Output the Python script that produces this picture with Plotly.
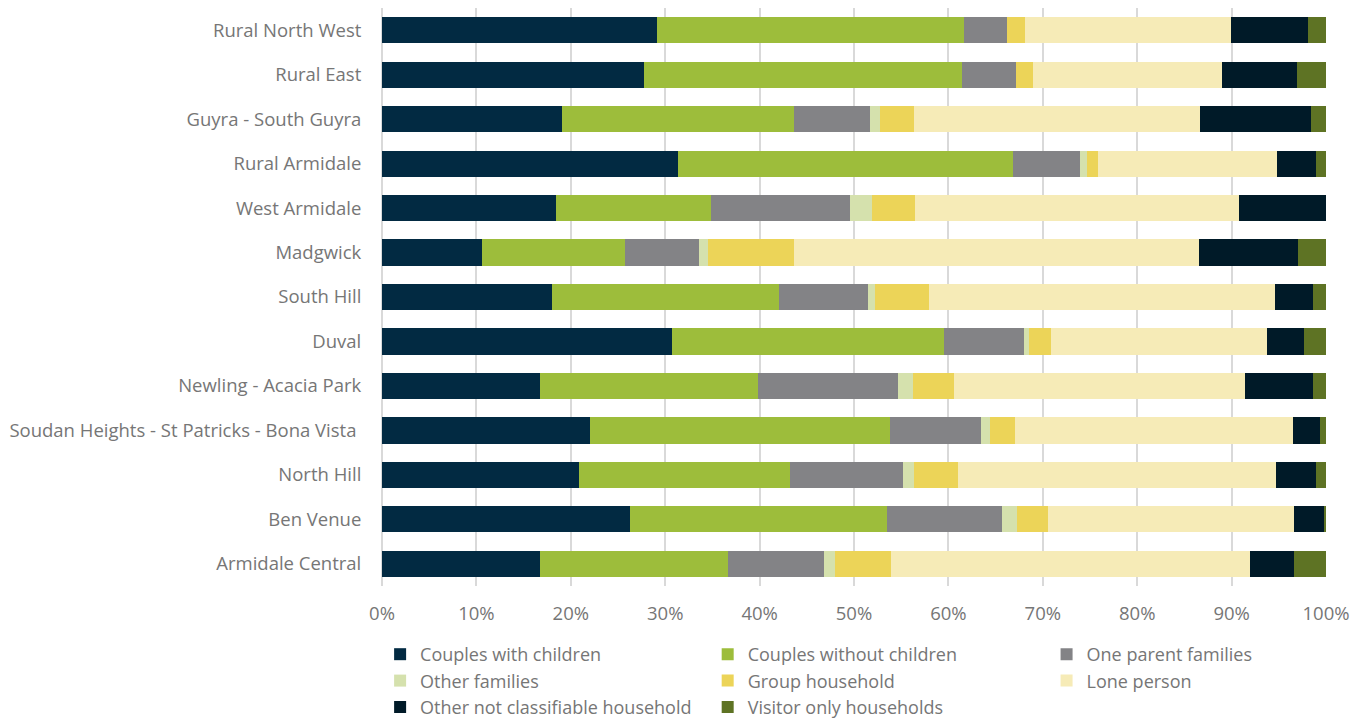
import plotly.graph_objects as go

areas = ["Rural North West", "Rural East", "Guyra - South Guyra", "Rural Armidale",
         "West Armidale", "Madgwick", "South Hill", "Duval", "Newling - Acacia Park",
         "Soudan Heights - St Patricks - Bona Vista ", "North Hill", "Ben Venue",
         "Armidale Central"]

couples_with_children = [29.1, 27.8, 19.1, 31.4, 18.4, 10.6, 18.0, 30.7, 16.7, 22.0, 20.9, 26.3, 16.7]
couples_without_children = [32.6, 33.6, 24.5, 35.4, 16.5, 15.1, 24.1, 28.8, 23.1, 31.8, 22.3, 27.2, 20.0]
one_parent_families = [4.5, 5.8, 8.1, 7.1, 14.7, 7.9, 9.4, 8.5, 14.9, 9.7, 12.0, 12.2, 10.1]
other_families = [0.0, 0.0, 1.1, 0.8, 2.3, 0.9, 0.7, 0.5, 1.5, 0.9, 1.2, 1.6, 1.2]
group_household = [1.9, 1.8, 3.6, 1.1, 4.6, 9.1, 5.7, 2.4, 4.4, 2.7, 4.6, 3.3, 5.9]
lone_person = [21.8, 20.0, 30.3, 19.0, 34.3, 42.9, 36.7, 22.9, 30.8, 29.4, 33.7, 26.0, 38.0]
other_not_classifiable = [8.2, 7.9, 11.7, 4.1, 9.2, 10.5, 4.0, 3.9, 7.2, 2.9, 4.2, 3.2, 4.7]
visitor_only = [1.9, 3.1, 1.6, 1.1, 0.0, 3.0, 1.4, 2.3, 1.4, 0.6, 1.1, 0.2, 3.4]

x_tick_vals = [0, 10, 20, 30, 40, 50, 60, 70, 80, 90, 100]
x_tick_text = ["0%", "10%", "20%", "30%", "40%", "50%", "60%", "70%", "80%", "90%", "100%"]

series = [
    ("Couples with children", couples_with_children, "#022A42", "legend"),
    ("Couples without children", couples_without_children, "#9DBD3B", "legend2"),
    ("One parent families", one_parent_families, "#838386", "legend3"),
    ("Other families", other_families, "#D5E1AD", "legend"),
    ("Group household", group_household, "#ECD458", "legend2"),
    ("Lone person", lone_person, "#F6EBB7", "legend3"),
    ("Other not classifiable household", other_not_classifiable, "#001A28", "legend"),
    ("Visitor only households", visitor_only, "#5E7324", "legend2"),
]

fig = go.Figure()
for name, vals, color, lg in series:
    fig.add_trace(go.Bar(
        y=areas, x=vals, name=name, orientation="h",
        marker=dict(color=color, line=dict(width=0)),
        legend=lg, width=0.59,
    ))

font_family = "Open Sans, DejaVu Sans, sans-serif"
gray = "#767676"
legend_common = dict(orientation="v", yanchor="top", xanchor="left", traceorder="normal",
                     xref="paper", yref="container",
                     font=dict(family=font_family, size=18, color=gray),
                     bgcolor="rgba(0,0,0,0)", tracegroupgap=0, itemwidth=30)

fig.update_layout(
    barmode="stack",
    width=1350, height=710,
    margin=dict(l=374, r=32, t=0, b=132),
    plot_bgcolor="white", paper_bgcolor="white",
    font=dict(family=font_family, size=18.5, color=gray),
    xaxis=dict(range=[0, 100], tickvals=x_tick_vals, ticktext=x_tick_text,
               showgrid=True, gridcolor="#D9D9D9", gridwidth=1.5,
               zeroline=True, zerolinecolor="#D9D9D9", zerolinewidth=1.5,
               showline=False, automargin=False,
               ticks="outside", ticklen=11, tickcolor="rgba(0,0,0,0)",
               tickfont=dict(size=18.5, color=gray)),
    yaxis=dict(categoryorder="array", categoryarray=areas[::-1],
               showgrid=False, automargin=False,
               ticks="outside", ticklen=16, tickcolor="rgba(0,0,0,0)",
               tickfont=dict(size=18.5, color=gray)),
    legend=dict(x=-0.002, y=0.1155, **legend_common),
    legend2=dict(x=0.345, y=0.1155, **legend_common),
    legend3=dict(x=0.704, y=0.1155, **legend_common),
    bargap=0.41,
)

fig.write_html("out.html")
